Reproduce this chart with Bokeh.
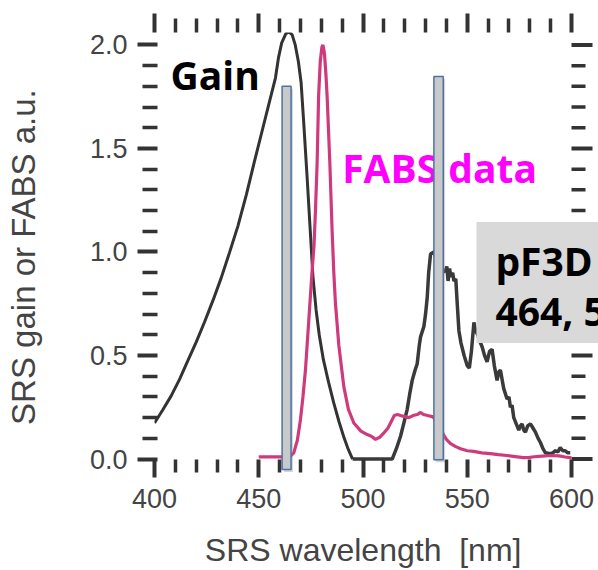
from bokeh.plotting import figure
from bokeh.models import (Range1d, LinearAxis, FixedTicker, CustomJSTickFormatter,
                          PrintfTickFormatter, BoxAnnotation, Label, ColumnDataSource)
from bokeh.core.properties import value
from bokeh.embed import file_html
from bokeh.resources import INLINE

# ---------------- data ----------------
gain_x = [400, 404, 408, 412, 416, 420, 424, 428, 432, 436, 440, 444, 448, 452, 455, 458,
          459.5, 461, 463, 464.5, 466, 467.5, 469, 470.3, 471.6, 473.2, 474.6, 476, 477.5,
          479, 481, 483.5, 486, 488.5, 491, 493, 495]
gain_y = [0.174, 0.238, 0.305, 0.385, 0.475, 0.565, 0.662, 0.765, 0.875, 0.998, 1.125,
          1.275, 1.44, 1.60, 1.72, 1.84, 1.94, 2.01, 2.055, 2.062, 2.05, 2.0, 1.92, 1.82,
          1.62, 1.36, 1.12, 0.88, 0.72, 0.60, 0.48, 0.37, 0.27, 0.18, 0.10, 0.045, 0.0]

fabs_x = [450, 460, 465, 466.8, 468.5, 470, 471.2, 472.4, 473.2, 474, 474.8, 475.6, 476.5,
          477.2, 478, 478.7, 479.5, 480.3, 480.8, 481.5, 482.2, 482.8, 484.1, 485.2, 486,
          486.8, 488.4, 490.8, 493, 495.6, 499, 502, 504, 506, 508, 510, 512, 513.5, 515,
          516.5, 518, 520, 522, 524, 526, 527.6, 529, 531, 533.2, 535, 537, 538.8, 540, 542,
          544.5, 546.8, 550, 553, 557, 561, 565, 569, 573, 577, 580, 582, 586, 590, 594,
          597, 600]
fabs_y = [0.01, 0.01, 0.012, 0.03, 0.09, 0.19, 0.30, 0.43, 0.55, 0.67, 0.79, 0.91, 1.03,
          1.2, 1.43, 1.75, 1.92, 1.99, 2.0, 1.96, 1.86, 1.75, 1.43, 1.10, 0.90, 0.75, 0.55,
          0.35, 0.24, 0.174, 0.135, 0.118, 0.11, 0.095, 0.105, 0.126, 0.15, 0.18, 0.21,
          0.215, 0.21, 0.205, 0.20, 0.21, 0.215, 0.225, 0.215, 0.21, 0.205, 0.19, 0.15, 0.115,
          0.095, 0.075, 0.06, 0.05, 0.04, 0.037, 0.03, 0.026, 0.021, 0.017, 0.012, 0.007,
          0.008, 0.011, 0.014, 0.017, 0.015, 0.01, 0.006]

srs_x = [495, 514, 516, 518, 519.5, 521.2, 522.5, 523.6, 525, 526, 527, 527.6, 529.2, 530,
         530.8, 531.5, 532.4, 534, 536, 538, 539.6, 540.2, 540.8, 541.5, 542.2, 543, 543.6,
         544.5, 545.2, 546, 547, 548.5, 550, 551, 552, 553.2, 554, 555, 556, 557.2, 558.3,
         559.5, 560.7, 561.9, 563, 564.3, 565.1, 565.9, 567.5, 569.1, 570, 570.7, 571.5,
         572.3, 573.5, 574.7, 575.5, 576.3, 577.1, 577.9, 579, 580.3, 581.5, 582.7, 584,
         585.1, 586.3, 587.5, 589.9, 591, 592.3, 593.5, 594.6, 595.8, 597, 598.2, 599.4]
srs_y = [0.0, 0.0, 0.05, 0.11, 0.17, 0.24, 0.32, 0.38, 0.43, 0.46, 0.55, 0.59, 0.64, 0.70,
         0.78, 0.90, 0.99, 1.0, 0.95, 0.90, 0.91, 0.93, 0.86, 0.92, 0.88, 0.90, 0.86, 0.87,
         0.75, 0.62, 0.56, 0.50, 0.45, 0.44, 0.52, 0.66, 0.62, 0.60, 0.57, 0.54, 0.50, 0.47,
         0.52, 0.53, 0.45, 0.38, 0.42, 0.43, 0.34, 0.29, 0.30, 0.25, 0.26, 0.20, 0.17, 0.14,
         0.16, 0.17, 0.14, 0.13, 0.16, 0.17, 0.15, 0.13, 0.10, 0.08, 0.05, 0.03, 0.026,
         0.03, 0.04, 0.035, 0.055, 0.04, 0.04, 0.03, 0.03]

x_major = [400, 450, 500, 550, 600]
x_minor = [v for v in range(400, 601, 10) if v % 50 != 0]
y_major = [0.0, 0.5, 1.0, 1.5, 2.0]
y_minor = [round(0.1 * i, 1) for i in range(1, 20) if i % 5 != 0]

bar_left = [461.2, 534.0]
bar_right = [465.5, 538.5]
bar_top = [1.80, 1.847]
bar_bottom = [-0.05, -0.003]

# ---------------- figure ----------------
TICK = "#333333"
LABEL = "#444444"
NB = "\u00a0"
X_END = 400 + 200 * 444 / 417   # frame reaches the window edge; axis ends at 600

p = figure(width=598, height=570, output_backend="svg", toolbar_location=None,
           x_range=Range1d(400, X_END), y_range=Range1d(-0.065, 2.06),
           min_border_left=154, min_border_right=0, min_border_top=32,
           min_border_bottom=97)
p.grid.visible = False
p.outline_line_color = None
p.background_fill_color = "white"
p.border_fill_color = "white"

def style_axis(ax, major, minor, tin, tout, min_in, min_out, labels=True):
    ax.ticker = FixedTicker(ticks=major, minor_ticks=minor)
    ax.axis_line_color = None
    ax.major_tick_line_color = TICK
    ax.minor_tick_line_color = TICK
    ax.major_tick_line_width = 4
    ax.minor_tick_line_width = 3.5
    ax.major_tick_in = tin
    ax.major_tick_out = tout
    ax.minor_tick_in = min_in
    ax.minor_tick_out = min_out
    if not labels:
        ax.formatter = CustomJSTickFormatter(code="return ''")
        ax.major_label_text_font_size = "1px"
        ax.major_label_standoff = 0

xb = p.xaxis[0]
style_axis(xb, x_major, x_minor, 13, 5, 13, 0)
xb.major_label_text_font = "Liberation Sans"
xb.major_label_text_font_size = "27px"
xb.major_label_text_color = LABEL
xb.major_label_standoff = 11
xb.axis_label = "SRS wavelength " + NB + "[nm]" + NB * 3
xb.axis_label_text_font = "Liberation Sans"
xb.axis_label_text_font_size = "32px"
xb.axis_label_text_font_style = "normal"
xb.axis_label_text_color = LABEL
xb.axis_label_standoff = 21

yl = p.yaxis[0]
style_axis(yl, y_major, y_minor, 3, 17, 3, 12)
yl.formatter = PrintfTickFormatter(format="%.1f")
yl.major_label_text_font = "Liberation Sans"
yl.major_label_text_font_size = "27px"
yl.major_label_text_color = LABEL
yl.major_label_standoff = 10
yl.axis_label = "SRS gain or FABS a.u." + NB
yl.axis_label_text_font = "Liberation Sans"
yl.axis_label_text_font_size = "33px"
yl.axis_label_text_font_style = "normal"
yl.axis_label_text_color = LABEL
yl.axis_label_standoff = 45

xt = LinearAxis()
style_axis(xt, x_major, x_minor, 0, 19, 0, 14, labels=False)
p.add_layout(xt, "above")

# right-hand ticks at x = 600, pointing outward
p.ray(x=[600] * len(y_major), y=y_major, length=21, length_units="screen", angle=0,
      line_color=TICK, line_width=4)
p.ray(x=[600] * len(y_minor), y=y_minor, length=14, length_units="screen", angle=0,
      line_color=TICK, line_width=3.5)

# ---------------- curves ----------------
p.line(gain_x, gain_y, line_color="#333333", line_width=3)
p.line(srs_x, srs_y, line_color="#3a3a3a", line_width=3.5)
p.line(fabs_x, fabs_y, line_color="#CF3A7C", line_width=3.2)

# texts in the frame
txt = ColumnDataSource(dict(x=[407.7], y=[1.855], t=["Gain"]))
p.text(x="x", y="y", text="t", source=txt, text_font=value("Open Sans"),
       text_font_style="bold", text_font_size="39px", text_color="black",
       text_baseline="alphabetic")
txt2 = ColumnDataSource(dict(x=[490.0], y=[1.41], t=["FABS data"]))
p.text(x="x", y="y", text="t", source=txt2, text_font=value("Open Sans"),
       text_font_style="bold", text_font_size="39px", text_color="#FF00FF",
       text_baseline="alphabetic")

# bars (with a faint shadow)
p.quad(left=[v + 0.9 for v in bar_left], right=[v + 0.9 for v in bar_right],
       top=[v - 0.012 for v in bar_top], bottom=[v - 0.012 for v in bar_bottom],
       fill_color="#888888", fill_alpha=0.35, line_color=None)
p.quad(left=bar_left, right=bar_right, top=bar_top, bottom=bar_bottom,
       fill_color="#C9C9C9", line_color="#4A72A8", line_width=1.5)

# gray box with pF3D text (runs past the right edge)
box = BoxAnnotation(left=554.4, right=X_END + 5, top=1.145, bottom=0.561,
                    fill_color="#D9D9D9", fill_alpha=1.0, line_color=None,
                    level="overlay")
p.add_layout(box)
for ty, tt in [(0.958, "pF3D with"), (0.716, "464, 535 nm")]:
    p.add_layout(Label(x=563.5, y=ty, text=tt, text_font="Open Sans",
                       text_font_style="bold", text_font_size="39px",
                       text_color="black", text_baseline="alphabetic",
                       level="overlay"))

open("out.html", "w").write(file_html(p, INLINE))
